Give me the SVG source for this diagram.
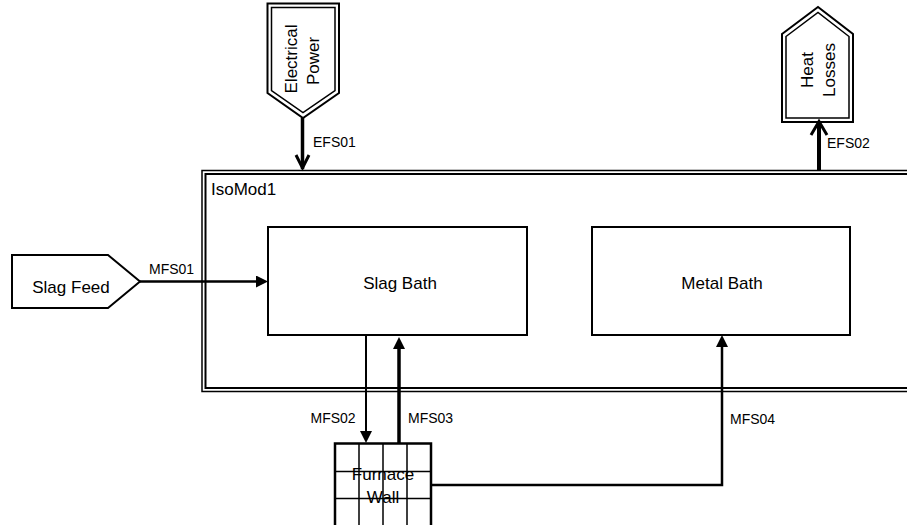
<svg xmlns="http://www.w3.org/2000/svg" width="907" height="525" viewBox="0 0 907 525">
<style>
text{font-family:"Liberation Sans",Arial,sans-serif;fill:#000}
.n{font-size:17px}
.l{font-size:14px}
.box{fill:#fff;stroke:#000;stroke-width:2}
.ln{fill:none;stroke:#000;stroke-linecap:butt}
</style>
<defs>
<marker id="ah" viewBox="0 0 12 12" refX="0" refY="6" markerWidth="12" markerHeight="12" markerUnits="userSpaceOnUse" orient="auto">
<path d="M0,0 L12,6 L0,12 Z" fill="#000"/>
</marker>
</defs>
<rect width="907" height="525" fill="#fff"/>
<g id="IsoMod1">
<rect x="202" y="170.5" width="720" height="221" fill="none" stroke="#000" stroke-width="1.5"/>
<rect x="205.5" y="174" width="720" height="214" fill="none" stroke="#000" stroke-width="2"/>
<text class="n" x="211" y="195">IsoMod1</text>
</g>
<g id="SlagBath">
<rect class="box" x="268" y="227" width="259" height="108"/>
<text class="n" x="400" y="289" text-anchor="middle">Slag Bath</text>
</g>
<g id="MetalBath">
<rect class="box" x="592" y="227" width="258" height="108"/>
<text class="n" x="722" y="289" text-anchor="middle">Metal Bath</text>
</g>
<g id="SlagFeed">
<polygon points="12,255 108,255 140,281.5 108,308 12,308" fill="#fff" stroke="#000" stroke-width="2"/>
<text class="n" x="71" y="293" text-anchor="middle">Slag Feed</text>
</g>
<g id="ElectricalPower">
<polygon points="267.5,3.5 339,3.5 339,93 303,118 267.5,93" fill="#fff" stroke="#000" stroke-width="2"/>
<polygon points="271.5,7.5 335,7.5 335,90.5 303,112.5 271.5,90.5" fill="none" stroke="#000" stroke-width="1.5"/>
<text class="n" transform="translate(297,59) rotate(-90)" text-anchor="middle">Electrical</text>
<text class="n" transform="translate(319,61) rotate(-90)" text-anchor="middle">Power</text>
</g>
<g id="HeatLosses">
<polygon points="782,34 818,7 853,34 853,122 782,122" fill="#fff" stroke="#000" stroke-width="2"/>
<polygon points="786,36.5 818,12.5 849,36.5 849,118 786,118" fill="none" stroke="#000" stroke-width="1.5"/>
<text class="n" transform="translate(813,70) rotate(-90)" text-anchor="middle">Heat</text>
<text class="n" transform="translate(835,70) rotate(-90)" text-anchor="middle">Losses</text>
</g>
<g id="FurnaceWall">
<rect x="335" y="443.5" width="96" height="90" fill="#fff" stroke="#000" stroke-width="2.5"/>
<path d="M359,443.5V525 M383,443.5V525 M407,443.5V525 M335,471.5H431 M335,498.5H431" stroke="#000" stroke-width="1.5" fill="none"/>
<text class="n" x="383" y="480" text-anchor="middle">Furnace</text>
<text class="n" x="383" y="503" text-anchor="middle">Wall</text>
</g>
<g id="connectors">
<path class="ln" d="M140,281.5H256" stroke-width="2.5" marker-end="url(#ah)"/>
<path class="ln" d="M366,335V431" stroke-width="2" marker-end="url(#ah)"/>
<path class="ln" d="M399,443.5V349" stroke-width="3.5" marker-end="url(#ah)"/>
<path class="ln" d="M431,485H722V347" stroke-width="2.5" marker-end="url(#ah)"/>
<path class="ln" d="M302.5,118V169" stroke-width="3.5"/>
<path class="ln" d="M296,155L302.5,168L309,155" stroke-width="3"/>
<path class="ln" d="M819,170.5V122" stroke-width="4"/>
<path class="ln" d="M811,135L819,121.5L827,135" stroke-width="3"/>
<text class="l" x="149" y="273.5">MFS01</text>
<text class="l" x="310.5" y="423">MFS02</text>
<text class="l" x="408" y="423">MFS03</text>
<text class="l" x="730" y="424">MFS04</text>
<text class="l" x="313" y="147">EFS01</text>
<text class="l" x="827" y="148">EFS02</text>
</g>
</svg>
